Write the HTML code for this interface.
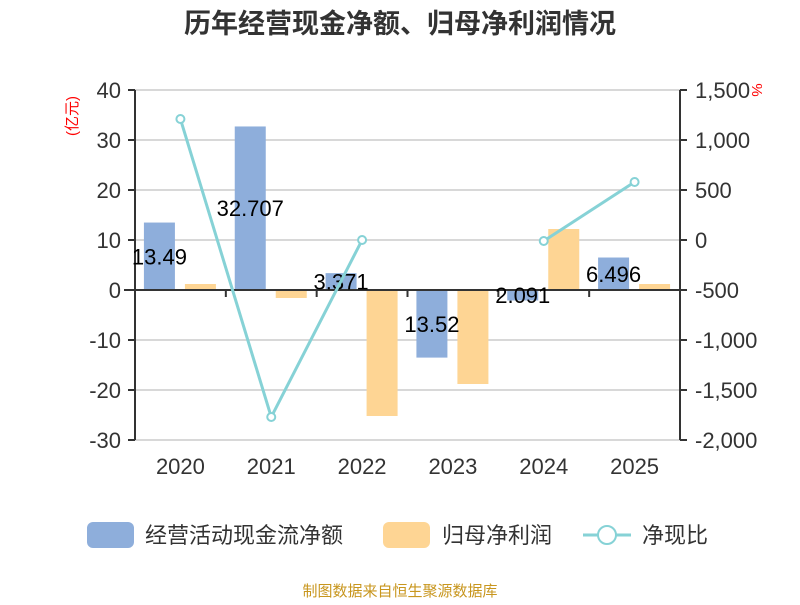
<!DOCTYPE html>
<html><head><meta charset="utf-8"><style>
body{margin:0;background:#fff;font-family:"Liberation Sans","Noto Sans CJK SC",sans-serif}
svg text{font-family:"Liberation Sans","Noto Sans CJK SC",sans-serif}
</style></head><body>
<svg id="c" width="800" height="600" viewBox="0 0 800 600">
<text x="400" y="33" text-anchor="middle" font-size="27" font-weight="bold" fill="#333">历年经营现金净额、归母净利润情况</text>
<text transform="translate(77,116) rotate(-90)" text-anchor="middle" font-size="15" fill="red">(亿元)</text>
<text transform="translate(752,90) rotate(90)" text-anchor="middle" font-size="15" fill="red">%</text>
<g id="grid"></g><g id="bars"></g><g id="axes"></g><g id="labels"></g><g id="line"></g>
<g>
<rect x="87" y="522" width="47" height="26" rx="6" fill="#8eaedb"/>
<text x="145" y="543" font-size="22" fill="#333">经营活动现金流净额</text>
<rect x="383" y="522" width="47" height="26" rx="6" fill="#fed594"/>
<text x="442" y="543" font-size="22" fill="#333">归母净利润</text>
<line x1="583" y1="535" x2="631" y2="535" stroke="#86d2d6" stroke-width="3"/>
<circle cx="607" cy="535" r="9" fill="#fff" stroke="#86d2d6" stroke-width="2"/>
<text x="642" y="543" font-size="22" fill="#333">净现比</text>
</g>
<text x="400" y="596" text-anchor="middle" font-size="15" fill="#c8961e">制图数据来自恒生聚源数据库</text>
</svg>
<script>
const categories=["2020","2021","2022","2023","2024","2025"];
const cashflow=[13.49,32.707,3.371,-13.52,-2.091,6.496];
const cashflowLabels=["13.49","32.707","3.371","13.52","2.091","6.496"];
const profit=[1.2,-1.6,-25.2,-18.8,12.2,1.2];
const ratio=[1210,-1770,0,null,-10,580];
const leftTicks=[40,30,20,10,0,-10,-20,-30];
const rightTicks=[1500,1000,500,0,-500,-1000,-1500,-2000];
const rightTickLabels=["1,500","1,000","500","0","-500","-1,000","-1,500","-2,000"];
const NS="http://www.w3.org/2000/svg";
const X0=135,X1=680,Y0=90,Y1=440;
const yL=v=>Y0+(40-v)/70*(Y1-Y0);
const yR=v=>Y0+(1500-v)/3500*(Y1-Y0);
const band=(X1-X0)/categories.length;
const xC=i=>X0+band*(i+0.5);
function mk(tag,attrs,parent,txt){const e=document.createElementNS(NS,tag);for(const k in attrs)e.setAttribute(k,attrs[k]);if(txt!==undefined)e.textContent=txt;document.getElementById(parent).appendChild(e);return e;}
leftTicks.forEach((t,i)=>{
 const y=yL(t);
 if(t!==0){const g=mk('line',{x1:X0,x2:X1,y1:y,y2:y,stroke:'#ccc','stroke-width':1.5},'grid');
 
 }
 const tk=mk('line',{x1:X0-7,x2:X0,y1:y,y2:y,stroke:'#333','stroke-width':2},'axes');
 
 
 const l=mk('text',{x:X0-14,y:y+8,'text-anchor':'end','font-size':22,fill:'#333'},'axes',String(t));
 
 
});
rightTicks.forEach((t,i)=>{
 const y=yR(t);
 const tk=mk('line',{x1:X1,x2:X1+7,y1:y,y2:y,stroke:'#333','stroke-width':2},'axes');
 
 
 const l=mk('text',{x:X1+15,y:y+8,'font-size':22,fill:'#333'},'axes',rightTickLabels[i]);
 
 
});
const la=mk('line',{x1:X0,x2:X0,y1:Y0,y2:Y1,stroke:'#333','stroke-width':2},'axes');


const ra=mk('line',{x1:X1,x2:X1,y1:Y0,y2:Y1,stroke:'#333','stroke-width':2},'axes');


const z=yL(0);
const za=mk('line',{x1:X0-11,x2:X1,y1:z,y2:z,stroke:'#333','stroke-width':2},'axes');


categories.forEach((c,i)=>{
 if(i>0){const tk=mk('line',{x1:X0+band*i,x2:X0+band*i,y1:z,y2:z+7,stroke:'#333','stroke-width':2},'axes');
 
 }
 const t=mk('text',{x:xC(i),y:474,'text-anchor':'middle','font-size':22,fill:'#333'},'axes',c);
 
 
 const bw=31;
 const v=cashflow[i];
 const b=mk('rect',{x:xC(i)-21-bw/2,y:Math.min(yL(v),z),width:bw,height:Math.abs(yL(v)-z),fill:'#8eaedb'},'bars');
 
 
 const p=profit[i];
 const b2=mk('rect',{x:xC(i)+20-bw/2,y:Math.min(yL(p),z),width:bw,height:Math.abs(yL(p)-z),fill:'#fed594'},'bars');
 
 
 const lb=mk('text',{x:xC(i)-21,y:(yL(v)+z)/2+8,'text-anchor':'middle','font-size':22,fill:'#000'},'labels',cashflowLabels[i]);
 
 
});
let segs=[],cur=[];
ratio.forEach((r,i)=>{if(r===null){if(cur.length)segs.push(cur);cur=[];}else cur.push([xC(i),yR(r)]);});
if(cur.length)segs.push(cur);
segs.forEach(s=>{if(s.length>1){const pl=mk('polyline',{points:s.map(p=>p.join(',')).join(' '),fill:'none',stroke:'#86d2d6','stroke-width':3},'line');
 
 }});
ratio.forEach((r,i)=>{if(r===null)return;
 const ci=mk('circle',{cx:xC(i),cy:yR(r),r:4,fill:'#fff',stroke:'#86d2d6','stroke-width':2},'line');
 
 });
</script>
</body></html>
